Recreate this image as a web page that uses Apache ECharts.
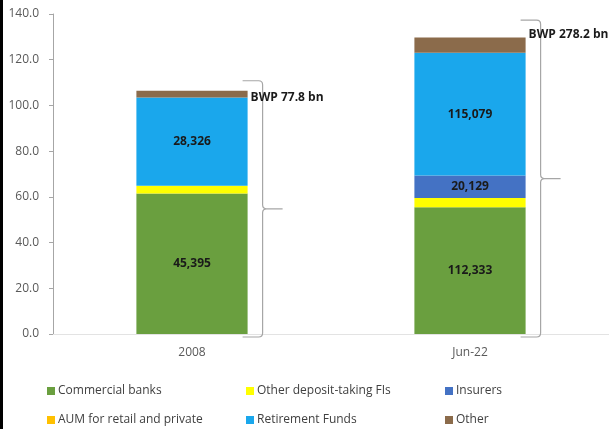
<!DOCTYPE html>
<html>
<head>
<meta charset="utf-8">
<script src="https://cdn.jsdelivr.net/npm/echarts@6/dist/echarts.min.js"></script>
<style>
  html, body { margin: 0; padding: 0; background: #fff; }
  #chart { width: 609px; height: 429px; }
</style>
</head>
<body>
<div id="chart"></div>
<script>
// Financial sector assets, % of GDP, with BWP million amounts as labels
const categories = ['2008', 'Jun-22'];
const commercialBanks = [61.5, 55.4];
const otherDepositTaking = [3.4, 4.1];
const insurers = [0, 9.8];
const aumRetailPrivate = [0, 0];
const retirementFunds = [38.6, 53.8];
const other = [2.9, 6.6];

// BWP million amounts written on the segments
const commercialBanksLabels = ['45,395', '112,333'];
const insurersLabels = ['', '20,129'];
const retirementFundsLabels = ['28,326', '115,079'];

// Total asset braces: upper end of each brace (axis units) and its caption
const braceTop = [110.8, 137.3];
const braceCaptionAt = [103.6, 131.0];
const braceCaptions = ['BWP 77.8 bn', 'BWP 278.2 bn'];

const yTicks = { min: 0, max: 140, interval: 20 };

const FONT = '"Open Sans", "Noto Sans", sans-serif';
const colors = {
  'Commercial banks': '#6a9f3f',
  'Other deposit-taking FIs': '#ffff00',
  'Insurers': '#4472c4',
  'AUM for retail and private': '#ffc000',
  'Retirement Funds': '#1aa7ec',
  'Other': '#8b6b4b'
};

function barSeries(name, values, labels) {
  return {
    name: name,
    type: 'bar',
    stack: 'total',
    barWidth: '40%',
    itemStyle: { color: colors[name] },
    label: labels ? {
      show: true,
      position: 'inside',
      fontFamily: FONT,
      fontSize: 12,
      fontWeight: 'bold',
      color: '#1a1a1a',
      formatter: p => labels[p.dataIndex]
    } : { show: false },
    emphasis: { disabled: true },
    data: values
  };
}

function braceItem(params, api) {
  const idx = api.value(0);
  const top = api.value(1);
  const base = api.coord([idx, 0]);
  const half = api.size([1, 0])[0] * 0.2;
  const barRight = base[0] + half;
  const sx = barRight - 5;
  const vx = barRight + 15;
  const tip = vx + 20;
  const yT = api.coord([idx, top])[1];
  const yB = base[1] + 3;
  const ym = (yT + yB) / 2;
  const r = 4;
  const d = [
    'M', sx, yT, 'L', vx - r, yT, 'Q', vx, yT, vx, yT + r,
    'L', vx, ym - r, 'Q', vx, ym, vx + r, ym, 'L', tip, ym,
    'M', vx + r, ym, 'Q', vx, ym, vx, ym + r,
    'L', vx, yB - r, 'Q', vx, yB, vx - r, yB, 'L', sx, yB
  ].join(' ');
  const capY = api.coord([idx, braceCaptionAt[params.dataIndex]])[1];
  return {
    type: 'group',
    children: [
      {
        type: 'path',
        shape: { pathData: d },
        style: { fill: 'none', stroke: '#a6a6a6', lineWidth: 1.2 }
      },
      {
        type: 'text',
        style: {
          text: braceCaptions[params.dataIndex],
          x: barRight + 3,
          y: capY,
          align: 'left',
          verticalAlign: 'middle',
          font: 'bold 12px ' + FONT,
          fill: '#1a1a1a'
        }
      }
    ]
  };
}

const legendNames = Object.keys(colors);
const legendCols = [47, 246, 445];
const legendRows = [385, 414];
const legends = legendNames.map((n, i) => ({
  data: [n],
  left: legendCols[i % 3],
  top: legendRows[Math.floor(i / 3)],
  padding: 0,
  icon: 'rect',
  itemWidth: 8,
  itemHeight: 8,
  itemGap: 0,
  selectedMode: false,
  textStyle: { fontFamily: FONT, fontSize: 12, color: '#404040', padding: [0, 0, 0, -2] }
}));

const chart = echarts.init(document.getElementById('chart'), null, { renderer: 'canvas' });
chart.setOption({
  animation: false,
  backgroundColor: '#fff',
  grid: { left: 53, right: -2, top: 14, bottom: 95 },
  legend: legends,
  xAxis: {
    type: 'category',
    data: categories,
    axisLine: { lineStyle: { color: '#e3e3e3', width: 1 } },
    axisTick: { show: false },
    axisLabel: { fontFamily: FONT, fontSize: 12, color: '#595959', margin: 13 }
  },
  yAxis: {
    type: 'value',
    min: yTicks.min,
    max: yTicks.max,
    interval: yTicks.interval,
    axisLine: { show: true, lineStyle: { color: '#a6a6a6' } },
    axisTick: { show: true, length: 4, lineStyle: { color: '#a6a6a6' } },
    splitLine: { show: false },
    axisLabel: {
      fontFamily: FONT, fontSize: 12, color: '#595959', margin: 14,
      formatter: v => v.toFixed(1)
    }
  },
  series: [
    barSeries('Commercial banks', commercialBanks, commercialBanksLabels),
    barSeries('Other deposit-taking FIs', otherDepositTaking),
    barSeries('Insurers', insurers, insurersLabels),
    barSeries('AUM for retail and private', aumRetailPrivate),
    barSeries('Retirement Funds', retirementFunds, retirementFundsLabels),
    barSeries('Other', other),
    {
      type: 'custom',
      name: 'braces',
      renderItem: braceItem,
      clip: false,
      silent: true,
      z: 5,
      data: categories.map((c, i) => [i, braceTop[i]])
    }
  ],
  graphic: [{
    type: 'rect',
    shape: { x: 0, y: 0, width: 3, height: 429 },
    style: { fill: '#000' },
    silent: true
  }]
});
</script>
</body>
</html>
